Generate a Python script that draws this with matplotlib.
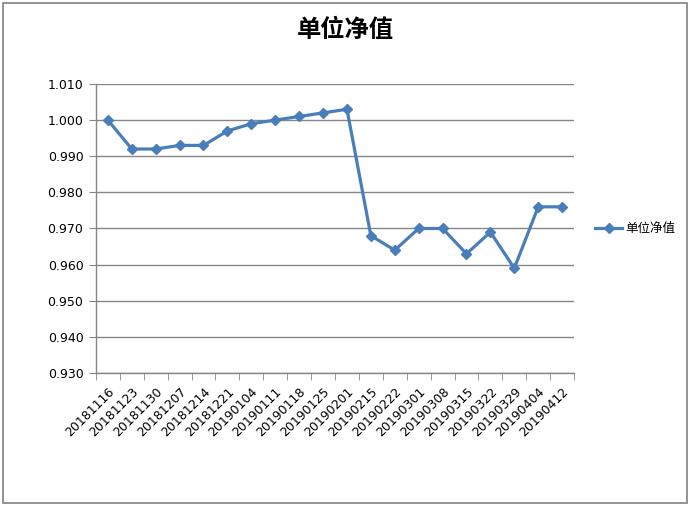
import matplotlib.pyplot as plt
from matplotlib.patches import Rectangle
import numpy as np

plt.rcParams["font.family"] = ["Noto Sans CJK SC", "DejaVu Sans"]

# Data
dates = [
    "20181116", "20181123", "20181130", "20181207", "20181214",
    "20181221", "20190104", "20190111", "20190118", "20190125",
    "20190201", "20190215", "20190222", "20190301", "20190308",
    "20190315", "20190322", "20190329", "20190404", "20190412",
]
nav = [
    1.000, 0.992, 0.992, 0.993, 0.993,
    0.997, 0.999, 1.000, 1.001, 1.002,
    1.003, 0.968, 0.964, 0.970, 0.970,
    0.963, 0.969, 0.959, 0.976, 0.976,
]
series_name = "单位净值"
y_ticks = [0.930, 0.940, 0.950, 0.960, 0.970, 0.980, 0.990, 1.000, 1.010]

line_color = "#4A7EBB"
axis_color = "#868686"

fig = plt.figure(figsize=(6.9, 5.08), dpi=100)
ax = fig.add_axes([0.139, 0.2657, 0.693, 0.569])

x = np.arange(len(dates))
ax.plot(x, nav, color=line_color, linewidth=2.3, marker="D", markersize=5.5,
        label=series_name)

ax.set_xlim(-0.5, len(dates) - 0.5)
ax.set_ylim(y_ticks[0], y_ticks[-1])
ax.set_yticks(y_ticks)
ax.set_yticklabels([f"{v:.3f}" for v in y_ticks], fontsize=9,
                   family="DejaVu Sans")
ax.yaxis.grid(True, color=axis_color, linewidth=1)
ax.set_axisbelow(True)

# category labels centred, tick marks on category boundaries
ax.set_xticks(x)
ax.set_xticklabels(dates, rotation=45, ha="right", rotation_mode="anchor",
                   fontsize=9, family="DejaVu Sans")
ax.tick_params(axis="x", which="major", length=0, pad=9)
ax.set_xticks(np.arange(-0.5, len(dates)), minor=True)
ax.tick_params(axis="x", which="minor", length=5, color=axis_color, direction="out")
ax.tick_params(axis="y", length=5, color=axis_color, direction="out", pad=4)

for side in ["top", "right"]:
    ax.spines[side].set_visible(False)
for side in ["left", "bottom"]:
    ax.spines[side].set_color(axis_color)
    ax.spines[side].set_linewidth(1)

fig.text(0.5, 0.94, series_name, ha="center", va="center", fontsize=17.5,
         fontweight="bold")

ax.legend(loc="center left", bbox_to_anchor=(1.02, 0.5), frameon=False,
          fontsize=9, handlelength=2.2, handletextpad=0.2)

# chart border
fig.patches.append(Rectangle((0.005, 0.01), 0.99, 0.985, transform=fig.transFigure,
                             fill=False, edgecolor="#808080", linewidth=1.2))

fig.savefig("out.png", dpi=100)
